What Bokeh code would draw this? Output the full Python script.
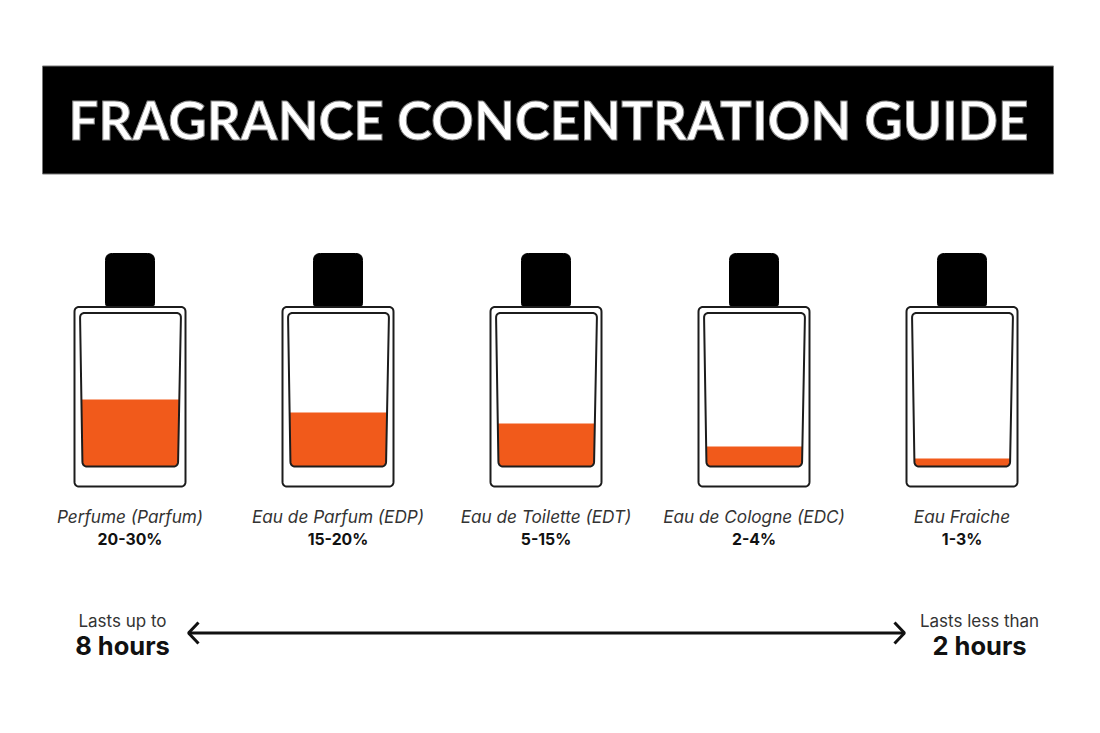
from bokeh.plotting import figure
from bokeh.embed import file_html
from bokeh.resources import INLINE
from bokeh.models import Range1d
from bokeh.core.properties import value
import numpy as np

# ---- data ----
title = "FRAGRANCE CONCENTRATION GUIDE"
names = ["Perfume (Parfum)", "Eau de Parfum (EDP)", "Eau de Toilette (EDT)", "Eau de Cologne (EDC)", "Eau Fraiche"]
ranges = ["20-30%", "15-20%", "5-15%", "2-4%", "1-3%"]
fill_levels = [67, 54, 43, 20, 8]
left_notes = ["Lasts up to", "8 hours"]
right_notes = ["Lasts less than", "2 hours"]

# ---- layout ----
W, H = 1084, 717
CENTERS = [129.5 + 208 * i for i in range(len(names))]
FILL_BASE = 466
INK = "#1c1c1c"
ORANGE = "#F15A1B"
SANS = value("Inter")
TITLE_FONT = value("Lato")


def rounded(corners, radii):
    """Sample a polygon with rounded corners."""
    pts = np.array(corners, dtype=float)
    n = len(pts)
    xs, ys = [], []
    for i in range(n):
        p, a, b = pts[i], pts[i - 1], pts[(i + 1) % n]
        r = radii[i]
        if r == 0:
            xs.append(p[0]); ys.append(p[1])
            continue
        u = (a - p) / np.linalg.norm(a - p)
        v = (b - p) / np.linalg.norm(b - p)
        for t in np.linspace(0, 1, 9):
            q = (1 - t) ** 2 * (p + u * r) + 2 * t * (1 - t) * p + t ** 2 * (p + v * r)
            xs.append(q[0]); ys.append(q[1])
    return xs, ys


p = figure(width=W, height=H, output_backend="svg", toolbar_location=None,
           x_range=Range1d(0, W), y_range=Range1d(H, 0),
           min_border=0, outline_line_color=None, background_fill_color="white",
           border_fill_color="white")
p.axis.visible = False
p.grid.visible = False

# Title band
p.quad(left=42, right=1053, top=65.5, bottom=173.5, fill_color="black", line_color="#777777", line_width=1)
p.text(x=[548], y=[119], text=[title], text_color="white", text_font=TITLE_FONT,
       text_font_style="bold", text_font_size="53px", text_align="center", text_baseline="middle",
       text_outline_color="#8a8a8a")

# Bottles
for c, level in zip(CENTERS, fill_levels):
    xs, ys = rounded([(c - 24.5, 253), (c + 24.5, 253), (c + 24.5, 306), (c - 24.5, 306)], [7, 7, 3, 3])
    p.patch(xs, ys, fill_color="black", line_color="black", line_width=1)

    xs, ys = rounded([(c - 55.5, 306.5), (c + 55.5, 306.5), (c + 55.5, 486), (c - 55.5, 486)], [5, 5, 5, 5])
    p.patch(xs, ys, fill_color="white", line_color=INK, line_width=2)

    top = FILL_BASE - level
    frac = (top - 312) / (FILL_BASE - 312)
    lx = c - 50 + 2.5 * frac
    rx = c + 51 - 3 * frac
    r = min(5, level - 1)
    xs, ys = rounded([(lx, top), (rx, top), (c + 48, FILL_BASE), (c - 47.5, FILL_BASE)], [0, 0, r, r])
    p.patch(xs, ys, fill_color=ORANGE, line_color=None)

    xs, ys = rounded([(c - 50, 312.5), (c + 51, 312.5), (c + 48, FILL_BASE), (c - 47.5, FILL_BASE)], [5, 5, 5, 5])
    p.patch(xs, ys, fill_color=None, line_color=INK, line_width=2)

# Labels
p.text(x=CENTERS, y=[516] * 5, text=names, text_color="#333333", text_font=SANS, text_font_style="italic",
       text_font_size="17.2px", text_align="center", text_baseline="middle")
p.text(x=CENTERS, y=[539] * 5, text=ranges, text_color="#111111", text_font=SANS, text_font_style="bold",
       text_font_size="15.8px", text_align="center", text_baseline="middle")

# Double arrow
p.line([188, 904], [632.5, 632.5], line_color="#111111", line_width=3)
p.line([198, 188, 198], [622, 632.5, 643], line_color="#111111", line_width=3)
p.line([894, 904, 894], [622, 632.5, 643], line_color="#111111", line_width=3)

# End notes
p.text(x=[122, 979], y=[620.5, 620.5], text=[left_notes[0], right_notes[0]], text_color="#333333",
       text_font=SANS, text_font_size="17px", text_align="center", text_baseline="middle")
p.text(x=[122, 979], y=[644.5, 644.5], text=[left_notes[1], right_notes[1]], text_color="#111111",
       text_font=SANS, text_font_style="bold", text_font_size="25.5px", text_align="center", text_baseline="middle")

open("out.html", "w").write(file_html(p, INLINE))
